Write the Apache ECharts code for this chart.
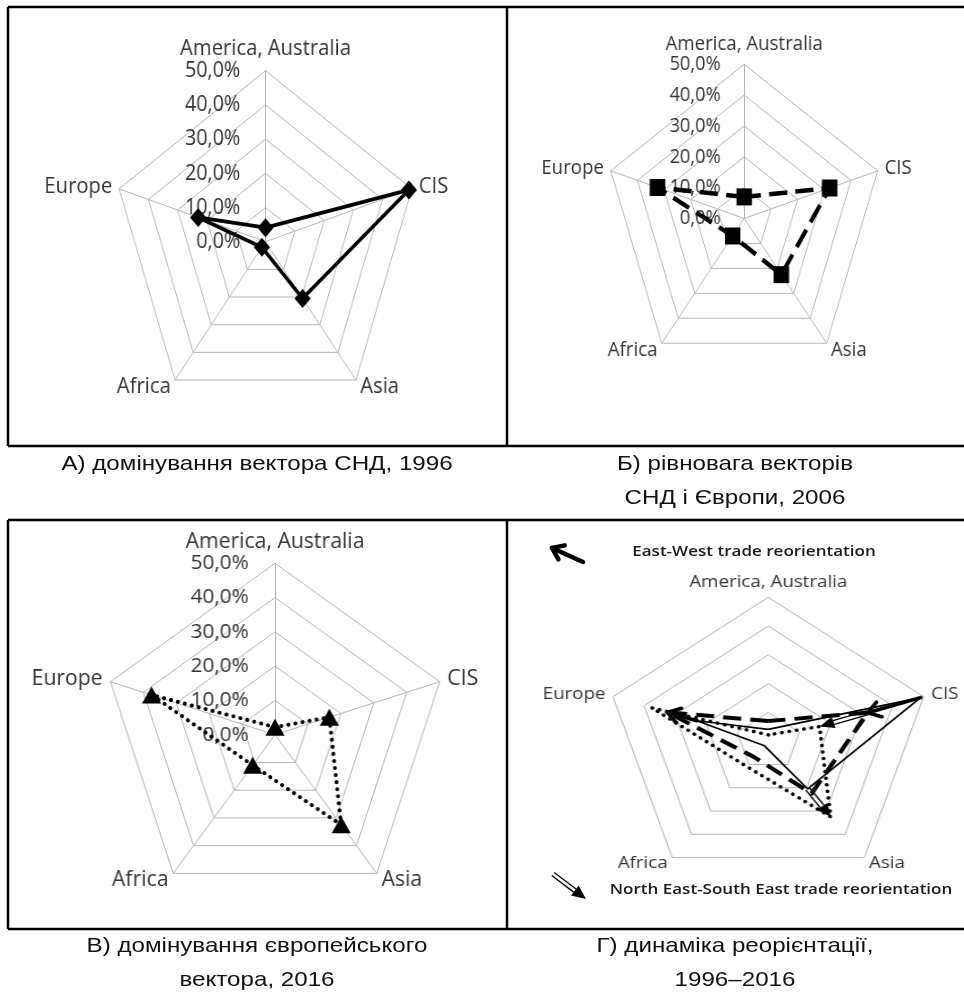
<!DOCTYPE html>
<html>
<head>
<meta charset="utf-8">
<script src="https://cdn.jsdelivr.net/npm/echarts@6/dist/echarts.min.js"></script>
<style>
html, body { margin: 0; padding: 0; background: #fff; overflow: hidden; }
#bg { position: absolute; left: 0; top: 0; width: 964px; height: 992px; }
.panel { position: absolute; }
</style>
</head>
<body>
<div id="bg"></div>
<div id="pA" class="panel" style="left:9px;top:8px;width:497px;height:437px"></div>
<div id="pB" class="panel" style="left:508px;top:8px;width:456px;height:437px"></div>
<div id="pC" class="panel" style="left:9px;top:521px;width:497px;height:407px"></div>
<div id="pD" class="panel" style="left:508px;top:521px;width:456px;height:407px"></div>
<script>
// напрямки торгівлі (індикатори радару, проти годинникової стрілки від верху)
var regions = ['America, Australia', 'Europe', 'Africa', 'Asia', 'CIS'];
// частки, %
var share1996 = [4.1, 23.0, 2.0, 20.5, 49.0];
var share2006 = [7.0, 32.5, 7.0, 22.5, 32.0];
var share2016 = [2.2, 37.5, 11.0, 32.5, 16.5];
var tickLabels = ['0,0%', '10,0%', '20,0%', '30,0%', '40,0%', '50,0%'];
var axisMax = 50;

var captions = [
    { lines: ['А) домінування вектора СНД, 1996'], x: 257, y: 464 },
    { lines: ['Б) рівновага векторів', 'СНД і Європи, 2006'], x: 735, y: 464 },
    { lines: ['В) домінування європейського', 'вектора, 2016'], x: 257, y: 946 },
    { lines: ['Г) динаміка реорієнтації,', '1996–2016'], x: 735, y: 946 }
];
var noteEastWest = 'East-West trade reorientation';
var noteSouthEast = 'North East-South East trade reorientation';

var GRID = '#b4b4b4';
var TXT = '#333';

// налаштування панелей (центр у координатах панелі)
var panels = [
    { el: 'pA', cx: 256.5, cy: 233.7, r: 171, sx: 0.9, fs: 22.5, tfs: 22, margin: 28, gap: 8, ticks: true, spokes: true },
    { el: 'pB', cx: 236.2, cy: 210.5, r: 154.2, sx: 0.91, fs: 20.5, tfs: 20, margin: 26, gap: 8, ticks: true, spokes: true },
    { el: 'pC', cx: 266, cy: 213.7, r: 171.4, sx: 1.01, fs: 21, tfs: 20.5, margin: 26, gap: 8, ticks: true, spokes: true },
    { el: 'pD', cx: 260.3, cy: 220.2, r: 143.9, sx: 1.135, fs: 16.5, tfs: 14, margin: 20, gap: 7, ticks: false, spokes: false }
];

function radarOpt(p) {
    return {
        center: [p.cx, p.cy],
        radius: p.r,
        startAngle: 90,
        shape: 'polygon',
        splitNumber: 5,
        indicator: regions.map(function (n, i) {
            var ind = { name: n, min: 0, max: axisMax };
            if (i === 0 && p.ticks) {
                ind.axisLabel = {
                    show: true,
                    margin: p.margin,
                    color: TXT,
                    fontFamily: 'Open Sans',
                    fontSize: p.tfs,
                    formatter: function (v) {
                        return tickLabels[Math.round(v / 10)];
                    }
                };
            }
            return ind;
        }),
        axisName: { color: TXT, fontFamily: 'Open Sans', fontSize: p.fs },
        nameGap: p.gap,
        axisLine: { show: p.spokes, lineStyle: { color: GRID, width: 1 } },
        splitLine: { lineStyle: { color: GRID, width: 1 } },
        splitArea: { show: false },
        axisTick: { show: false },
        axisLabel: { show: false }
    };
}

function setupPanel(p) {
    var dom = document.getElementById(p.el);
    dom.style.transformOrigin = p.cx + 'px 0px';
    dom.style.transform = 'scaleX(' + p.sx + ')';
    return echarts.init(dom);
}

// А) 1996
var chartA = setupPanel(panels[0]);
chartA.setOption({
    animation: false,
    radar: radarOpt(panels[0]),
    series: [{
        type: 'radar',
        symbol: 'diamond',
        symbolSize: [18, 19],
        lineStyle: { color: '#000', width: 3.8 },
        itemStyle: { color: '#000' },
        data: [{ value: share1996, name: '1996' }]
    }]
});

// Б) 2006
var chartB = setupPanel(panels[1]);
chartB.setOption({
    animation: false,
    radar: radarOpt(panels[1]),
    series: [{
        type: 'radar',
        symbol: 'rect',
        symbolSize: [17, 17],
        lineStyle: { color: '#000', width: 4.5, type: [20, 9] },
        itemStyle: { color: '#000' },
        data: [{ value: share2006, name: '2006' }]
    }]
});

// В) 2016
var chartC = setupPanel(panels[2]);
chartC.setOption({
    animation: false,
    radar: radarOpt(panels[2]),
    series: [{
        type: 'radar',
        symbol: 'triangle',
        symbolSize: [19, 17],
        lineStyle: { color: '#000', width: 4, type: [0.1, 7], cap: 'round' },
        itemStyle: { color: '#000' },
        data: [{ value: share2016, name: '2016' }]
    }]
});

// Г) динаміка 1996–2016
var chartD = setupPanel(panels[3]);
chartD.setOption({
    animation: false,
    radar: radarOpt(panels[3]),
    series: [{
        type: 'radar',
        symbol: 'none',
        data: [
            { value: share1996, name: '1996', lineStyle: { color: '#000', width: 1.6 } },
            { value: share2006, name: '2006', lineStyle: { color: '#000', width: 4, type: [16, 8] } },
            { value: share2016, name: '2016', lineStyle: { color: '#000', width: 3.5, type: [0.1, 6.5], cap: 'round' } }
        ]
    }]
});

// стрілки
function boldArrow(a, b, w, head) {
    var dx = b[0] - a[0], dy = b[1] - a[1];
    var len = Math.sqrt(dx * dx + dy * dy);
    var ux = dx / len, uy = dy / len, t = Math.PI / 5;
    var r1 = [-ux * Math.cos(t) + uy * Math.sin(t), -ux * Math.sin(t) - uy * Math.cos(t)];
    var r2 = [-ux * Math.cos(-t) + uy * Math.sin(-t), -ux * Math.sin(-t) - uy * Math.cos(-t)];
    var st = { stroke: '#000', lineWidth: w, lineCap: 'round', lineJoin: 'round', fill: null };
    return [
        { type: 'line', shape: { x1: a[0], y1: a[1], x2: b[0], y2: b[1] }, style: st, z: 50 },
        { type: 'polyline', shape: { points: [[b[0] + r1[0] * head, b[1] + r1[1] * head], b, [b[0] + r2[0] * head, b[1] + r2[1] * head]] }, style: st, z: 50 }
    ];
}

function hollowArrow(a, b, gap, head) {
    var dx = b[0] - a[0], dy = b[1] - a[1];
    var len = Math.sqrt(dx * dx + dy * dy);
    var ux = dx / len, uy = dy / len, nx = -uy, ny = ux;
    var e = [b[0] - ux * head, b[1] - uy * head];
    var hw = head * 0.45;
    var st = { stroke: '#000', lineWidth: 1.3 };
    return [
        { type: 'line', shape: { x1: a[0] + nx * gap, y1: a[1] + ny * gap, x2: e[0] + nx * gap, y2: e[1] + ny * gap }, style: st, z: 50 },
        { type: 'line', shape: { x1: a[0] - nx * gap, y1: a[1] - ny * gap, x2: e[0] - nx * gap, y2: e[1] - ny * gap }, style: st, z: 50 },
        { type: 'polygon', shape: { points: [b, [e[0] + nx * hw, e[1] + ny * hw], [e[0] - nx * hw, e[1] - ny * hw]] }, style: { fill: '#000' }, z: 50 }
    ];
}

// які зміни позначено стрілками: [з, до, індекс індикатора]
var eastWestMoves = [[share1996, share2006, 4], [share1996, share2006, 1]];
var southEastMoves = [[share2006, share2016, 4], [share1996, share2016, 3]];

var radarCS = chartD.getModel().getComponent('radar', 0).coordinateSystem;
function pt(vals, i) {
    return radarCS.dataToPoint(vals[i], i);
}
var arrowEls = [];
eastWestMoves.forEach(function (m) {
    arrowEls = arrowEls.concat(boldArrow(pt(m[0], m[2]), pt(m[1], m[2]), 3.5, 13));
});
southEastMoves.forEach(function (m) {
    arrowEls = arrowEls.concat(hollowArrow(pt(m[0], m[2]), pt(m[1], m[2]), 2, 13));
});
chartD.setOption({ graphic: arrowEls });

// тло: рамки таблиці, підписи, легенда стрілок
var bg = echarts.init(document.getElementById('bg'));
var frame = [
    [8, 7, 964, 7], [8, 446, 964, 446], [8, 7, 8, 446], [507, 7, 507, 446],
    [8, 520, 964, 520], [8, 929, 964, 929], [8, 520, 8, 929], [507, 520, 507, 929]
];
var bgEls = frame.map(function (f) {
    return { type: 'line', shape: { x1: f[0], y1: f[1], x2: f[2], y2: f[3] }, style: { stroke: '#000', lineWidth: 2.5 } };
});
captions.forEach(function (c) {
    c.lines.forEach(function (ln, k) {
        bgEls.push({
            type: 'text', x: c.x, y: c.y + k * 34, scaleX: 1.15,
            style: { text: ln, font: '21px "Liberation Sans"', fill: '#111', align: 'center', verticalAlign: 'middle' }
        });
    });
});
bgEls.push({
    type: 'text', x: 754, y: 552, scaleX: 1.135,
    style: { text: noteEastWest, font: '600 15px "Open Sans"', fill: '#1a1a1a', align: 'center', verticalAlign: 'middle' }
});
bgEls.push({
    type: 'text', x: 781, y: 890, scaleX: 1.135,
    style: { text: noteSouthEast, font: '600 15px "Open Sans"', fill: '#1a1a1a', align: 'center', verticalAlign: 'middle' }
});
bgEls = bgEls.concat(boldArrow([583, 562], [552, 548], 4.5, 13));
bgEls = bgEls.concat(hollowArrow([553, 874], [586, 899], 2, 14));
bg.setOption({ graphic: bgEls });
</script>
</body>
</html>
